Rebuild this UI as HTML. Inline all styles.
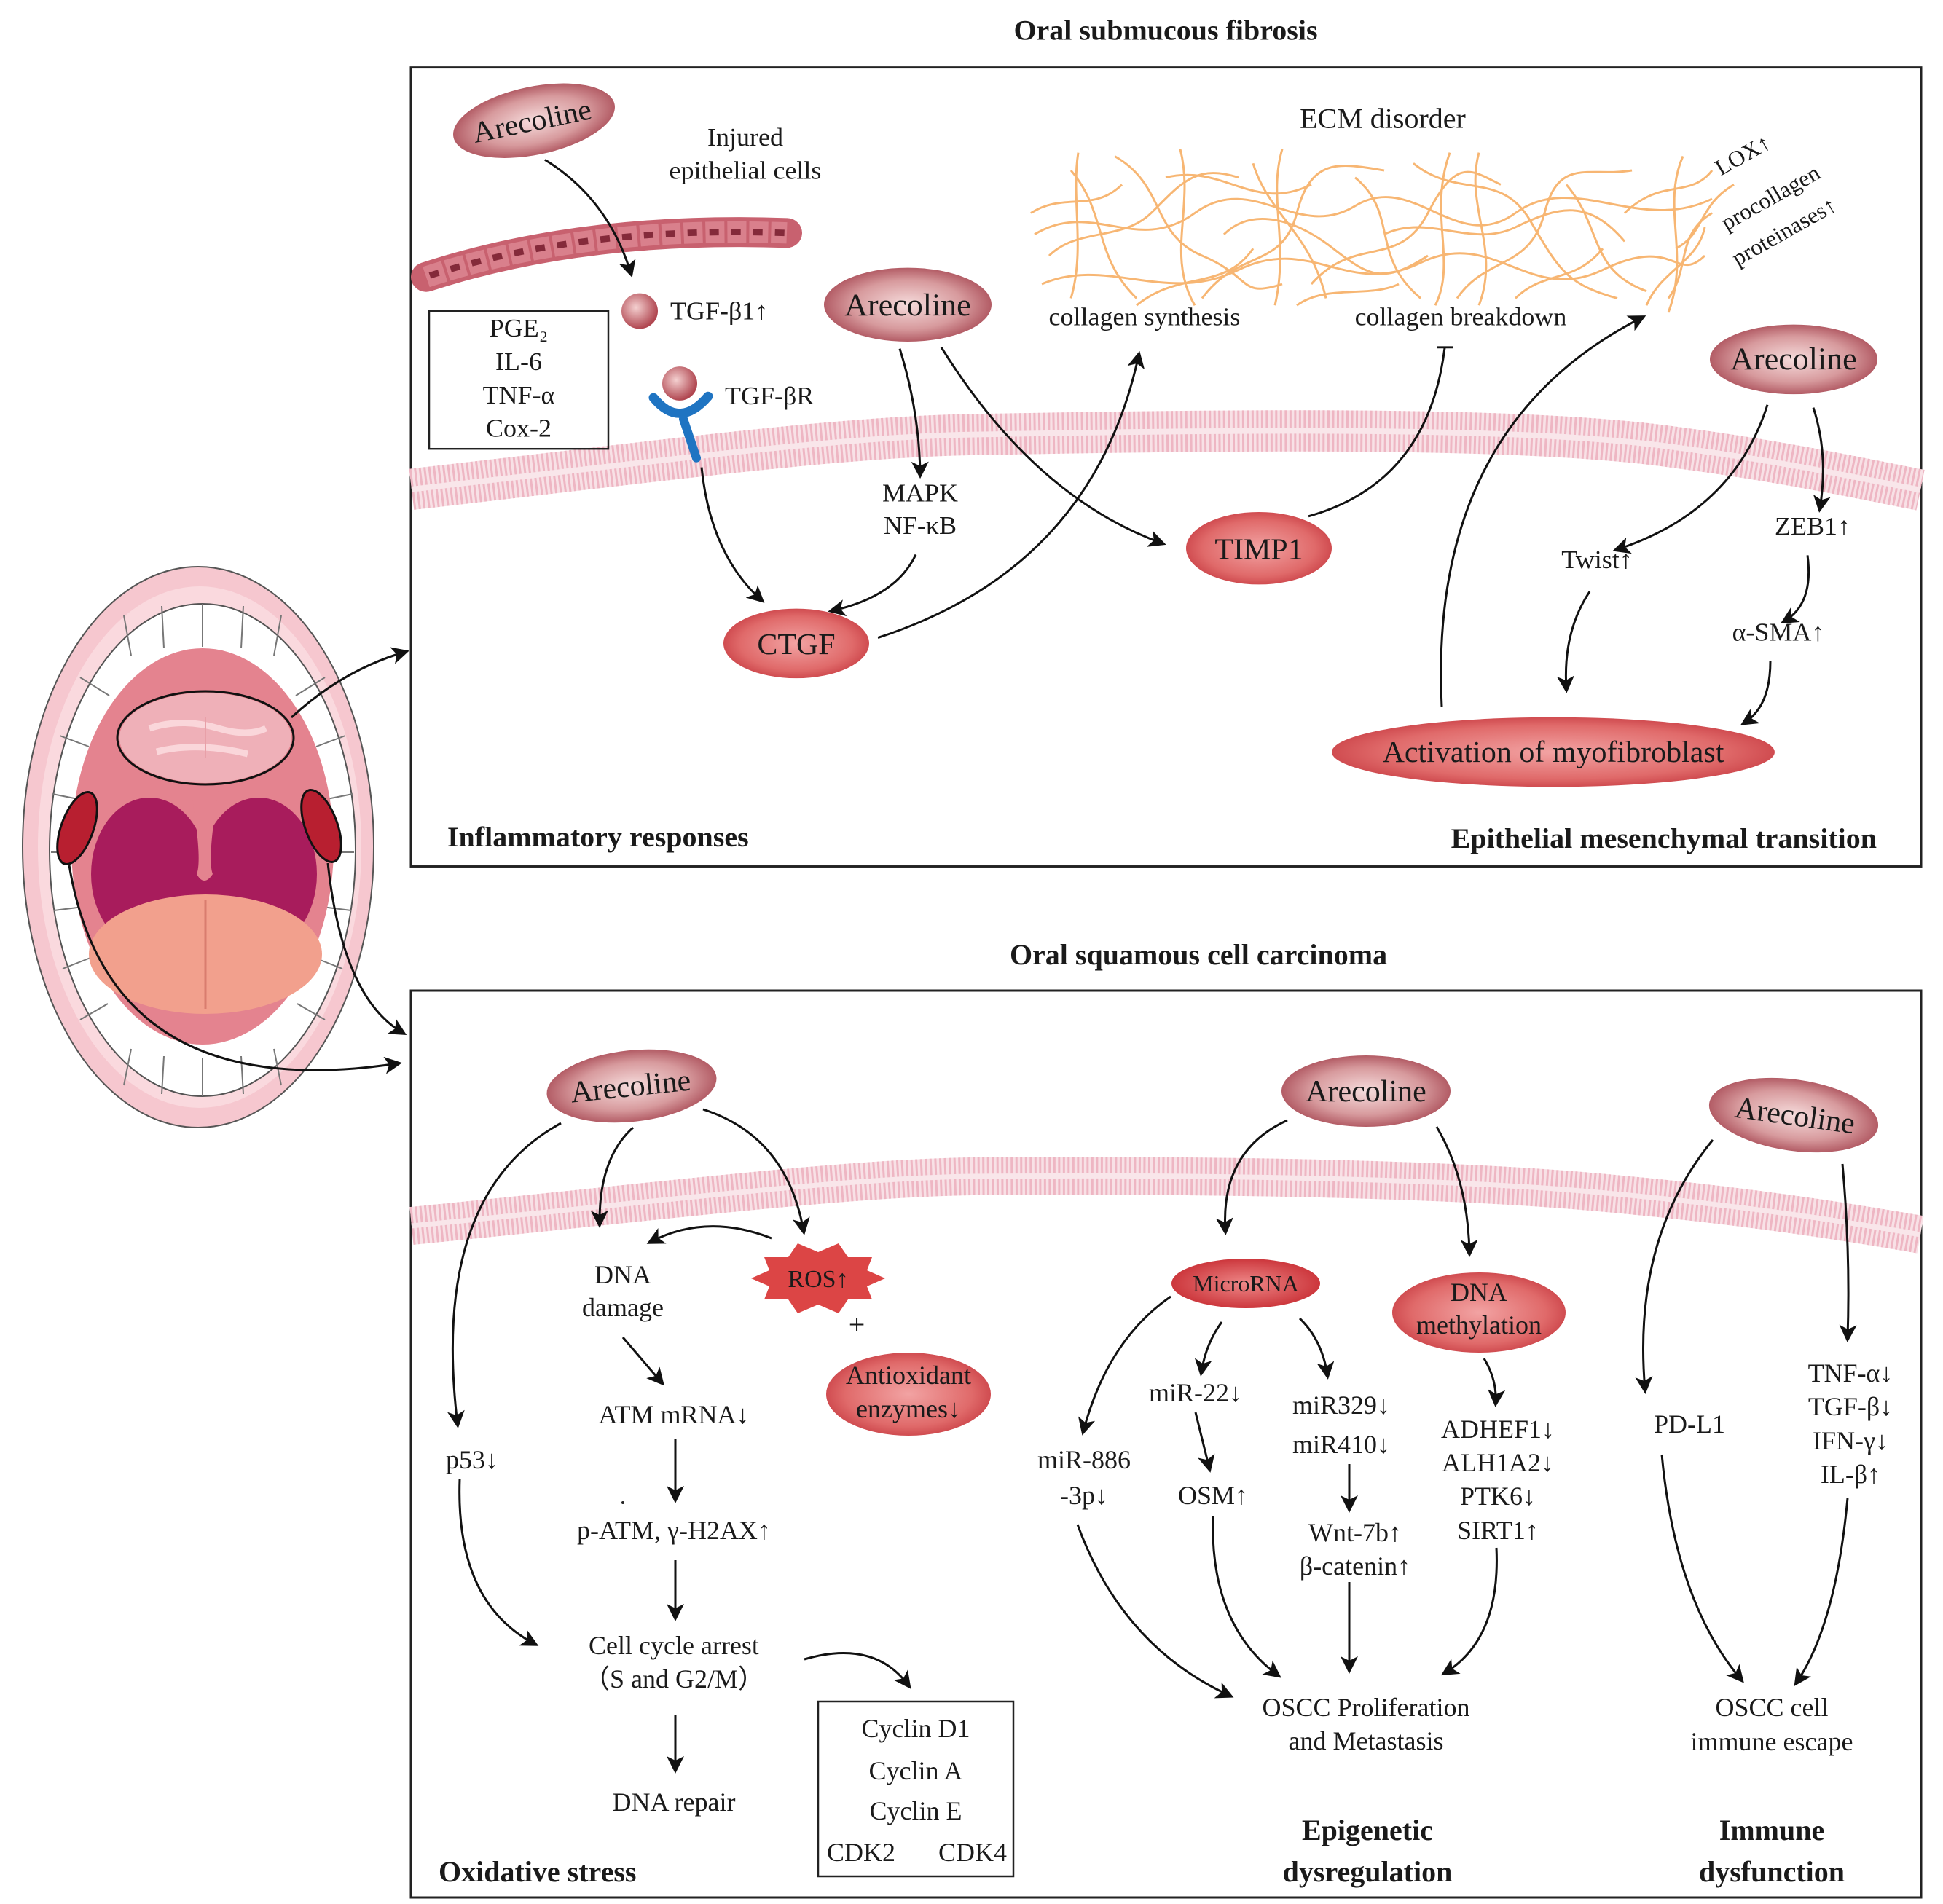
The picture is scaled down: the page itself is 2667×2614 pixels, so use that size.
<!DOCTYPE html>
<html><head><meta charset="utf-8"><style>
html,body{margin:0;padding:0;background:#fff}
svg{display:block}
text{font-family:"Liberation Serif",serif;fill:#1a1a1a}
.t{font-size:36px;text-anchor:middle}
.b{font-size:40px;font-weight:bold}
.e{font-size:42px;text-anchor:middle}
.ar{fill:none;stroke:#111;stroke-width:3;marker-end:url(#ah)}
</style></head><body>
<svg width="2667" height="2614" viewBox="0 0 2667 2614" xmlns="http://www.w3.org/2000/svg">
<defs>
<marker id="ah" markerWidth="8" markerHeight="8" refX="6" refY="4" orient="auto" markerUnits="strokeWidth">
<path d="M0,0 L8,4 L0,8 L2,4 z" fill="#111"/></marker>
<radialGradient id="gA" cx="50%" cy="50%" r="55%"><stop offset="0" stop-color="#f6dcdc"/><stop offset="0.6" stop-color="#d79a9d"/><stop offset="1" stop-color="#a84a55"/></radialGradient>
<radialGradient id="gR" cx="50%" cy="50%" r="55%"><stop offset="0" stop-color="#f2a3a3"/><stop offset="0.7" stop-color="#e06a6a"/><stop offset="1" stop-color="#c93f45"/></radialGradient>
<radialGradient id="gD" cx="50%" cy="50%" r="55%"><stop offset="0" stop-color="#ee8888"/><stop offset="1" stop-color="#c92f35"/></radialGradient>
<radialGradient id="gBall" cx="40%" cy="40%" r="60%"><stop offset="0" stop-color="#f4d0d0"/><stop offset="1" stop-color="#b04650"/></radialGradient>
</defs>

<g transform="scale(1,0.975)">
<text class="b" x="1600" y="56" text-anchor="middle">Oral submucous fibrosis</text>
<rect x="564" y="95" width="2073" height="1125" fill="none" stroke="#222" stroke-width="3"/>
<g fill="none">
<path d="M565,689 C900,650 1150,615 1333,612 C1700,605 2100,600 2300,630 C2450,650 2560,675 2636,690" stroke="#f8e1e6" stroke-width="58"/>
<path d="M565,689 C900,650 1150,615 1333,612 C1700,605 2100,600 2300,630 C2450,650 2560,675 2636,690" stroke="#eeb6c3" stroke-width="58" stroke-dasharray="3 3.5"/>
<path d="M565,689 C900,650 1150,615 1333,612 C1700,605 2100,600 2300,630 C2450,650 2560,675 2636,690" stroke="#f9e6ea" stroke-width="8"/>
</g>

<g fill="none" stroke="#f7b673" stroke-width="3">
<path d="M1420,330 C1500,280 1560,360 1640,300 S1780,340 1860,290 S2000,360 2080,300 S2250,330 2350,280"/>
<path d="M1430,400 C1520,360 1600,430 1700,380 S1850,420 1950,370 S2100,430 2200,380 S2300,400 2340,360"/>
<path d="M1470,240 C1520,300 1500,360 1560,420"/>
<path d="M1530,220 C1600,260 1580,330 1650,360 S1700,420 1760,400"/>
<path d="M1600,250 C1680,230 1720,300 1800,260"/>
<path d="M1650,420 C1700,350 1760,380 1780,300 S1840,230 1900,240"/>
<path d="M1720,230 C1740,300 1800,330 1820,420"/>
<path d="M1800,400 C1860,330 1920,380 1960,300 S2020,240 2060,260"/>
<path d="M1860,250 C1920,300 1880,360 1950,420"/>
<path d="M1940,230 C2000,280 2060,240 2100,310 S2150,400 2220,420"/>
<path d="M2000,420 C2040,360 2100,380 2120,300 S2180,250 2240,240"/>
<path d="M2150,260 C2200,320 2180,380 2260,410"/>
<path d="M2230,300 C2280,250 2320,280 2350,240"/>
<path d="M2260,430 C2280,380 2330,370 2340,320"/>
<path d="M1440,360 C1480,320 1540,340 1580,300 S1640,230 1700,250"/>
<path d="M1560,430 C1620,380 1680,410 1720,350"/>
<path d="M1900,330 C1960,300 2020,350 2080,320 S2180,280 2230,340"/>
<path d="M1680,330 C1720,290 1780,310 1830,350 S1900,400 1960,360"/>
<path d="M2080,420 C2120,380 2160,400 2200,350"/>
<path d="M1780,430 C1820,400 1880,420 1920,400"/>
<path d="M1415,300 C1460,270 1500,300 1540,260"/>
<path d="M2290,420 C2320,380 2300,330 2350,300"/>
<path d="M1480,215 C1470,280 1490,350 1470,420"/>
<path d="M1760,210 C1740,280 1770,340 1750,430"/>
<path d="M2030,215 C2010,290 2060,350 2030,430"/>
<path d="M2310,220 C2280,290 2320,360 2290,440"/>
<path d="M1620,210 C1640,290 1600,360 1640,430"/>
<path d="M1990,215 C1960,300 2000,370 1970,430"/>
<path d="M2380,260 C2330,290 2340,330 2300,350"/>
</g>
<text x="1898" y="180" font-size="40" text-anchor="middle">ECM disorder</text>
<g font-size="32">
<text transform="translate(2362,248) rotate(-30)">LOX↑</text>
<text transform="translate(2370,325) rotate(-30)">procollagen</text>
<text transform="translate(2385,375) rotate(-30)">proteinases↑</text>
</g>

<path d="M585,390 Q800,318 1080,328" fill="none" stroke="#c8616f" stroke-width="42" stroke-linecap="round"/>
<path d="M585,390 Q800,318 1080,328" fill="none" stroke="#d9808c" stroke-width="30" stroke-dasharray="26 4"/>
<path d="M590,388 Q800,318 1078,328" fill="none" stroke="#842a3a" stroke-width="9" stroke-dasharray="13 17"/>
<text class="t" x="1023" y="205">Injured</text>
<text class="t" x="1023" y="252">epithelial cells</text>

<ellipse cx="733" cy="170" rx="113" ry="48" transform="rotate(-12 733 170)" fill="url(#gA)"/>
<text class="e" transform="translate(733,184) rotate(-12)">Arecoline</text>
<path class="ar" d="M748,225 Q835,280 866,385"/>
<circle cx="878" cy="438" r="25" fill="url(#gBall)"/>
<text x="920" y="450" font-size="36">TGF-β1↑</text>
<rect x="589" y="438" width="246" height="194" fill="none" stroke="#222" stroke-width="2.5"/>
<text class="t" x="712" y="474">PGE₂</text>
<text class="t" x="712" y="521">IL-6</text>
<text class="t" x="712" y="568">TNF-α</text>
<text class="t" x="712" y="615">Cox-2</text>
<circle cx="933" cy="540" r="24" fill="url(#gBall)"/>
<path d="M897,560 Q933,605 972,558" fill="none" stroke="#1f74c2" stroke-width="13" stroke-linecap="round"/>
<path d="M938,590 L956,645" fill="none" stroke="#1f74c2" stroke-width="12" stroke-linecap="round"/>
<text x="995" y="569" font-size="36">TGF-βR</text>
<path class="ar" d="M963,658 Q975,780 1045,845"/>

<ellipse cx="1246" cy="429" rx="115" ry="52" fill="url(#gA)"/>
<text x="1246" y="444" font-size="44" text-anchor="middle">Arecoline</text>
<path class="ar" d="M1235,491 Q1262,580 1263,668"/>
<text class="t" x="1263" y="706">MAPK</text>
<text class="t" x="1263" y="752">NF-κB</text>
<path class="ar" d="M1257,781 Q1230,840 1142,860"/>
<ellipse cx="1093" cy="906" rx="100" ry="49" fill="url(#gR)"/>
<text x="1093" y="921" font-size="42" text-anchor="middle">CTGF</text>
<path class="ar" d="M1205,898 Q1500,800 1563,500"/>
<path class="ar" d="M1292,489 Q1420,700 1595,765"/>
<ellipse cx="1728" cy="772" rx="100" ry="51" fill="url(#gR)"/>
<text x="1728" y="787" font-size="42" text-anchor="middle">TIMP1</text>
<text class="t" x="1571" y="458">collagen synthesis</text>
<text class="t" x="2005" y="458">collagen breakdown</text>
<path d="M1796,727 Q1960,680 1983,490" fill="none" stroke="#111" stroke-width="3"/>
<path d="M1972,489 L1994,489" stroke="#111" stroke-width="3"/>

<ellipse cx="2462" cy="506" rx="115" ry="49" fill="url(#gA)"/>
<text x="2462" y="520" font-size="44" text-anchor="middle">Arecoline</text>
<path class="ar" d="M2426,570 Q2380,720 2219,774"/>
<path class="ar" d="M2489,574 Q2510,640 2498,716"/>
<text class="t" x="2192" y="800">Twist↑</text>
<text class="t" x="2488" y="753">ZEB1↑</text>
<text class="t" x="2441" y="902">α-SMA↑</text>
<path class="ar" d="M2182,833 Q2145,890 2150,970"/>
<path class="ar" d="M2481,782 Q2490,850 2449,875"/>
<path class="ar" d="M2430,931 Q2430,995 2394,1018"/>
<ellipse cx="2132" cy="1059" rx="304" ry="49" fill="url(#gR)"/>
<text x="2132" y="1073" font-size="42" text-anchor="middle">Activation of myofibroblast</text>
<path class="ar" d="M1979,995 Q1960,600 2254,447"/>
<text class="b" x="614" y="1192">Inflammatory responses</text>
<text class="b" x="2576" y="1194" text-anchor="end">Epithelial mesenchymal transition</text>
</g>

<!-- ===== Bottom ===== -->
<text class="b" x="1645" y="1324" text-anchor="middle">Oral squamous cell carcinoma</text>
<rect x="564" y="1360" width="2073" height="1245" fill="none" stroke="#222" stroke-width="3"/>
<g fill="none">
<path d="M565,1683 C900,1650 1150,1618 1333,1615 C1700,1612 2000,1620 2183,1636 C2400,1655 2550,1680 2636,1695" stroke="#f8e1e6" stroke-width="52"/>
<path d="M565,1683 C900,1650 1150,1618 1333,1615 C1700,1612 2000,1620 2183,1636 C2400,1655 2550,1680 2636,1695" stroke="#eeb6c3" stroke-width="52" stroke-dasharray="3 3.5"/>
<path d="M565,1683 C900,1650 1150,1618 1333,1615 C1700,1612 2000,1620 2183,1636 C2400,1655 2550,1680 2636,1695" stroke="#f9e6ea" stroke-width="7"/>
</g>

<!-- ===== Mouth ===== -->
<ellipse cx="272" cy="1163" rx="241" ry="385" fill="#f6c7cf" stroke="#555" stroke-width="2"/>
<ellipse cx="274" cy="1163" rx="222" ry="358" fill="#fad9de"/>
<ellipse cx="278" cy="1167" rx="210" ry="338" fill="#ffffff" stroke="#555" stroke-width="2"/>
<g stroke="#777" stroke-width="2" fill="none">
<path d="M170,845 L180,900 M222,832 L225,890 M278,829 L278,888 M334,832 L331,890 M386,845 L376,900"/>
<path d="M110,930 L150,955 M82,1010 L122,1025 M72,1090 L112,1098 M70,1170 L110,1170 M74,1250 L114,1245 M86,1330 L124,1315 M110,1400 L148,1378"/>
<path d="M446,930 L406,955 M474,1010 L434,1025 M484,1090 L444,1098 M486,1170 L446,1170 M482,1250 L442,1245 M470,1330 L432,1315 M446,1400 L408,1378"/>
<path d="M170,1490 L180,1440 M222,1502 L225,1450 M278,1505 L278,1452 M334,1502 L331,1450 M386,1490 L376,1440"/>
</g>
<ellipse cx="278" cy="1162" rx="180" ry="272" fill="#e4838f"/>
<ellipse cx="282" cy="1013" rx="118" ry="62" fill="#efb0b8"/>
<path d="M205,1000 Q250,985 300,1000 Q340,1012 365,1000 M215,1032 Q270,1018 340,1035" stroke="#fad6da" stroke-width="9" fill="none"/>
<path d="M282,985 L282,1040" stroke="#e8a0a8" stroke-width="2"/>
<ellipse cx="205" cy="1200" rx="80" ry="105" fill="#a81c5c"/>
<ellipse cx="355" cy="1200" rx="80" ry="105" fill="#a81c5c"/>
<path d="M262,1085 Q278,1180 270,1200 Q280,1218 292,1200 Q284,1180 300,1085 z" fill="#e4838f"/>
<ellipse cx="282" cy="1310" rx="160" ry="82" fill="#f2a08d"/>
<path d="M282,1235 L282,1385" stroke="#d97d6e" stroke-width="3"/>
<ellipse cx="282" cy="1013" rx="121" ry="64" fill="none" stroke="#111" stroke-width="3"/>
<ellipse cx="106" cy="1137" rx="22" ry="52" transform="rotate(20 106 1137)" fill="#b81f30" stroke="#111" stroke-width="3"/>
<ellipse cx="441" cy="1134" rx="22" ry="52" transform="rotate(-20 441 1134)" fill="#b81f30" stroke="#111" stroke-width="3"/>
<path class="ar" d="M400,985 Q470,920 556,895"/>
<path class="ar" d="M450,1185 Q470,1370 553,1418"/>
<path class="ar" d="M95,1188 Q150,1520 546,1460"/>

<!-- ===== Oxidative stress ===== -->
<ellipse cx="867" cy="1491" rx="117" ry="49" transform="rotate(-6 867 1491)" fill="url(#gA)"/>
<text class="e" transform="translate(867,1505) rotate(-6)">Arecoline</text>
<path class="ar" d="M770,1542 Q590,1640 628,1955"/>
<path class="ar" d="M869,1548 Q822,1590 823,1680"/>
<path class="ar" d="M965,1523 Q1080,1560 1103,1690"/>
<path class="ar" d="M1059,1700 Q970,1665 893,1705"/>
<polygon points="1215,1755 1190,1766 1197,1784 1164,1784 1151,1803 1123,1791 1095,1803 1082,1784 1049,1784 1056,1766 1031,1755 1056,1744 1049,1726 1082,1726 1095,1707 1123,1719 1151,1707 1164,1726 1197,1726 1190,1744" fill="#dc4545"/>
<text x="1123" y="1767" font-size="34" text-anchor="middle">ROS↑</text>
<text x="1176" y="1832" font-size="40" text-anchor="middle">+</text>
<ellipse cx="1247" cy="1914" rx="113" ry="57" fill="url(#gR)"/>
<text class="t" x="1247" y="1900">Antioxidant</text>
<text class="t" x="1247" y="1946">enzymes↓</text>
<text class="t" x="855" y="1762">DNA</text>
<text class="t" x="855" y="1807">damage</text>
<path class="ar" d="M855,1836 L908,1898"/>
<text class="t" x="925" y="1954">ATM mRNA↓</text>
<path class="ar" d="M927,1976 L927,2058"/>
<circle cx="855" cy="2063" r="2" fill="#222"/>
<text class="t" x="925" y="2113">p-ATM, γ-H2AX↑</text>
<path class="ar" d="M927,2142 L927,2220"/>
<text class="t" x="925" y="2271">Cell cycle arrest</text>
<text class="t" x="925" y="2317">（S and G2/M）</text>
<path class="ar" d="M927,2354 L927,2429"/>
<text class="t" x="925" y="2486">DNA repair</text>
<text class="t" x="648" y="2016">p53↓</text>
<path class="ar" d="M631,2031 Q625,2200 734,2257"/>
<path class="ar" d="M1104,2278 Q1200,2250 1247,2314"/>
<rect x="1123" y="2336" width="268" height="240" fill="none" stroke="#222" stroke-width="2.5"/>
<text class="t" x="1257" y="2385">Cyclin D1</text>
<text class="t" x="1257" y="2443">Cyclin A</text>
<text class="t" x="1257" y="2498">Cyclin E</text>
<text class="t" x="1182" y="2555">CDK2</text>
<text class="t" x="1335" y="2555">CDK4</text>
<text class="b" x="602" y="2583">Oxidative stress</text>

<!-- ===== Epigenetic ===== -->
<ellipse cx="1875" cy="1498" rx="116" ry="49" fill="url(#gA)"/>
<text x="1875" y="1512" font-size="42" text-anchor="middle">Arecoline</text>
<path class="ar" d="M1767,1538 Q1675,1580 1682,1690"/>
<path class="ar" d="M1972,1547 Q2015,1620 2017,1720"/>
<ellipse cx="1710" cy="1762" rx="102" ry="34" fill="url(#gD)"/>
<text x="1710" y="1773" font-size="32" text-anchor="middle">MicroRNA</text>
<ellipse cx="2030" cy="1802" rx="119" ry="55" fill="url(#gR)"/>
<text class="t" x="2030" y="1786">DNA</text>
<text class="t" x="2030" y="1831">methylation</text>
<path class="ar" d="M1607,1780 Q1520,1840 1487,1965"/>
<path class="ar" d="M1677,1815 Q1655,1845 1649,1884"/>
<path class="ar" d="M1784,1810 Q1815,1840 1822,1888"/>
<path class="ar" d="M2037,1865 Q2055,1895 2053,1926"/>
<text class="t" x="1488" y="2016">miR-886</text>
<text class="t" x="1488" y="2065">-3p↓</text>
<text class="t" x="1641" y="1924">miR-22↓</text>
<path class="ar" d="M1641,1939 L1660,2016"/>
<text class="t" x="1665" y="2065">OSM↑</text>
<text class="t" x="1841" y="1941">miR329↓</text>
<text class="t" x="1841" y="1995">miR410↓</text>
<path class="ar" d="M1852,2010 L1852,2071"/>
<text class="t" x="1860" y="2116">Wnt-7b↑</text>
<text class="t" x="1860" y="2162">β-catenin↑</text>
<text class="t" x="2056" y="1974">ADHEF1↓</text>
<text class="t" x="2056" y="2020">ALH1A2↓</text>
<text class="t" x="2056" y="2066">PTK6↓</text>
<text class="t" x="2056" y="2113">SIRT1↑</text>
<path class="ar" d="M1479,2093 Q1540,2260 1688,2328"/>
<path class="ar" d="M1665,2081 Q1660,2230 1754,2300"/>
<path class="ar" d="M1852,2172 L1852,2292"/>
<path class="ar" d="M2054,2125 Q2060,2250 1983,2297"/>
<text class="t" x="1875" y="2356">OSCC Proliferation</text>
<text class="t" x="1875" y="2402">and Metastasis</text>
<text class="b" x="1877" y="2526" text-anchor="middle">Epigenetic</text>
<text class="b" x="1877" y="2583" text-anchor="middle">dysregulation</text>

<!-- ===== Immune ===== -->
<ellipse cx="2462" cy="1531" rx="117" ry="49" transform="rotate(8 2462 1531)" fill="url(#gA)"/>
<text class="e" transform="translate(2462,1545) rotate(8)">Arecoline</text>
<path class="ar" d="M2351,1565 Q2240,1700 2258,1908"/>
<path class="ar" d="M2529,1598 Q2540,1720 2536,1837"/>
<text class="t" x="2319" y="1967">PD-L1</text>
<text class="t" x="2540" y="1897">TNF-α↓</text>
<text class="t" x="2540" y="1943">TGF-β↓</text>
<text class="t" x="2540" y="1990">IFN-γ↓</text>
<text class="t" x="2540" y="2036">IL-β↑</text>
<path class="ar" d="M2281,1997 Q2300,2200 2390,2306"/>
<path class="ar" d="M2536,2057 Q2520,2230 2466,2310"/>
<text class="t" x="2432" y="2356">OSCC cell</text>
<text class="t" x="2432" y="2403">immune escape</text>
<text class="b" x="2432" y="2526" text-anchor="middle">Immune</text>
<text class="b" x="2432" y="2583" text-anchor="middle">dysfunction</text>
</svg>
</body></html>
